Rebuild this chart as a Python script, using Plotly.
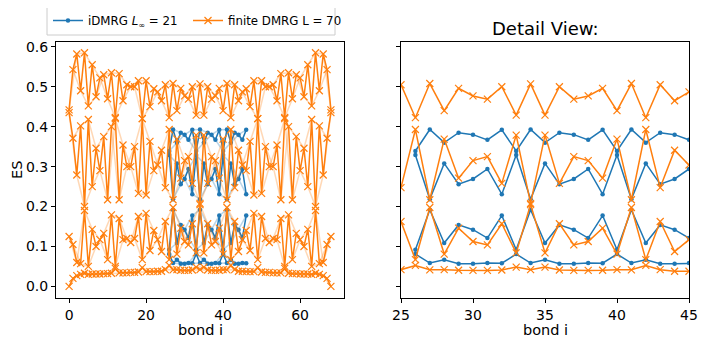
import plotly.graph_objects as go

BLUE = "#1f77b4"
ORANGE = "#ff7f0e"

# finite DMRG L = 70 : four lowest ES levels at bonds 0..68
fin_bonds = list(range(69))
fin_L1 = [0.442, 0.543, 0.582, 0.49, 0.585, 0.452, 0.555, 0.475, 0.522, 0.53, 0.47, 0.535, 0.423, 0.533, 0.465,
          0.505, 0.50, 0.50, 0.515, 0.42, 0.515, 0.45, 0.495, 0.487, 0.465, 0.505, 0.4225, 0.508, 0.44, 0.496,
          0.477, 0.469, 0.50, 0.429, 0.507,
          0.429, 0.50, 0.469, 0.477, 0.496, 0.44, 0.508, 0.4225, 0.505, 0.465, 0.487, 0.495, 0.45, 0.515, 0.42,
          0.515, 0.50, 0.50, 0.505, 0.465, 0.533, 0.423, 0.535, 0.47, 0.53, 0.522, 0.475, 0.555, 0.452, 0.585,
          0.49, 0.582, 0.543, 0.442]
fin_L2 = [0.435, 0.371, 0.279, 0.402, 0.2, 0.418, 0.25, 0.346, 0.29, 0.375, 0.217, 0.40, 0.42, 0.217, 0.354,
          0.30, 0.30, 0.35, 0.233, 0.42, 0.229, 0.363, 0.29, 0.304, 0.341, 0.2475, 0.393, 0.217, 0.369, 0.271,
          0.315, 0.325, 0.258, 0.379, 0.208,
          0.379, 0.258, 0.325, 0.315, 0.271, 0.369, 0.217, 0.393, 0.2475, 0.341, 0.304, 0.29, 0.363, 0.229, 0.42,
          0.233, 0.35, 0.30, 0.30, 0.354, 0.217, 0.42, 0.40, 0.217, 0.375, 0.29, 0.346, 0.25, 0.418, 0.2,
          0.402, 0.279, 0.371, 0.435]
fin_L3 = [0.125, 0.105, 0.06, 0.057, 0.19, 0.05, 0.143, 0.10, 0.117, 0.133, 0.067, 0.179, 0.05, 0.17, 0.117,
          0.12, 0.11, 0.12, 0.175, 0.067, 0.183, 0.09, 0.14, 0.117, 0.0875, 0.1625, 0.067, 0.1975, 0.081, 0.146,
          0.1125, 0.104, 0.157, 0.084, 0.205,
          0.084, 0.157, 0.104, 0.1125, 0.146, 0.081, 0.1975, 0.067, 0.1625, 0.0875, 0.117, 0.14, 0.09, 0.183, 0.067,
          0.175, 0.12, 0.11, 0.12, 0.117, 0.17, 0.05, 0.179, 0.067, 0.133, 0.117, 0.10, 0.143, 0.05, 0.19,
          0.057, 0.06, 0.105, 0.125]
fin_L4 = [0.0, 0.02, 0.027, 0.03, 0.033, 0.03, 0.031, 0.031, 0.031, 0.032, 0.032, 0.033, 0.045, 0.034, 0.034,
          0.034, 0.035, 0.035, 0.036, 0.047, 0.037, 0.037, 0.037, 0.038, 0.038, 0.042, 0.0525, 0.0415, 0.042, 0.0405,
          0.040, 0.040, 0.041, 0.0485, 0.042,
          0.0485, 0.041, 0.040, 0.040, 0.0405, 0.042, 0.0415, 0.0525, 0.042, 0.038, 0.038, 0.037, 0.037, 0.037, 0.047,
          0.036, 0.035, 0.035, 0.034, 0.034, 0.034, 0.045, 0.033, 0.032, 0.032, 0.031, 0.031, 0.031, 0.03, 0.033,
          0.03, 0.027, 0.02, 0.0]

# iDMRG L_inf = 21 : bonds 26..46
inf_bonds = list(range(26, 47))
inf_L1 = [0.339, 0.393, 0.36, 0.385, 0.38, 0.367, 0.392,
          0.339, 0.393, 0.36, 0.385, 0.38, 0.367, 0.392,
          0.339, 0.393, 0.36, 0.385, 0.38, 0.367, 0.392]
inf_L2 = [0.329, 0.2185, 0.308, 0.256, 0.269, 0.294, 0.231,
          0.329, 0.2185, 0.308, 0.256, 0.269, 0.294, 0.231,
          0.329, 0.2185, 0.308, 0.256, 0.269, 0.294, 0.231]
inf_L3 = [0.092, 0.192, 0.1085, 0.154, 0.142, 0.121, 0.1775,
          0.092, 0.192, 0.1085, 0.154, 0.142, 0.121, 0.1775,
          0.092, 0.192, 0.1085, 0.154, 0.142, 0.121, 0.1775]
inf_L4 = [0.081, 0.0585, 0.067, 0.057, 0.0565, 0.0585, 0.058,
          0.081, 0.0585, 0.067, 0.057, 0.0565, 0.0585, 0.058,
          0.081, 0.0585, 0.067, 0.057, 0.0565, 0.0585, 0.058]

y_ticks = [0.0, 0.1, 0.2, 0.3, 0.4, 0.5, 0.6]
x_ticks_left = [0, 20, 40, 60]
x_ticks_right = [25, 30, 35, 40, 45]

FONT = "DejaVu Sans"
fig = go.Figure()

BLUE_MARK = dict(symbol="circle", size=4.5, color=BLUE)
ORANGE_MARK = dict(symbol="x-thin", size=7, color=ORANGE, line=dict(width=1.2, color=ORANGE))


def add_series(bonds, levels, color, marker):
    for lev in levels:
        # faint even / odd sub-lattice lines (left panel)
        for start in (0, 1):
            fig.add_trace(go.Scatter(x=bonds[start::2], y=lev[start::2], mode="lines",
                                     line=dict(color=color, width=1.5), opacity=0.3,
                                     showlegend=False, hoverinfo="skip", xaxis="x", yaxis="y"))
    for lev in levels:
        fig.add_trace(go.Scatter(x=bonds, y=lev, mode="lines+markers", line=dict(color=color, width=1.5),
                                 marker=marker, showlegend=False, xaxis="x", yaxis="y"))
        fig.add_trace(go.Scatter(x=bonds, y=lev, mode="lines+markers", line=dict(color=color, width=1.5),
                                 marker=marker, showlegend=False, xaxis="x2", yaxis="y2"))


add_series(inf_bonds, [inf_L1, inf_L2, inf_L3, inf_L4], BLUE, BLUE_MARK)
add_series(fin_bonds, [fin_L1, fin_L2, fin_L3, fin_L4], ORANGE, ORANGE_MARK)

fig.add_trace(go.Scatter(x=[-100], y=[-100], mode="lines+markers", line=dict(color=BLUE, width=1.5),
                         marker=BLUE_MARK, name="iDMRG <i>L</i><sub>∞</sub> = 21", xaxis="x", yaxis="y",
                         legend="legend"))
fig.add_trace(go.Scatter(x=[-100], y=[-100], mode="lines+markers", line=dict(color=ORANGE, width=1.5),
                         marker=ORANGE_MARK, name="finite DMRG L = 70", xaxis="x", yaxis="y",
                         legend="legend2"))

# the page body has an 8 px margin, so figure coords = reference pixel - 8
W, H = 698, 337
OFF = 8


def px(x):
    return (x - OFF) / W


def py(y):
    return 1 - (y - OFF) / H


yd = [py(298), py(42)]
axis_common = dict(showline=True, mirror=True, linecolor="black", linewidth=1, ticks="outside",
                   ticklen=4, tickwidth=1, tickcolor="black", showgrid=False, zeroline=False,
                   automargin=False, tickfont=dict(size=14, color="black"))
legend_common = dict(orientation="h", y=py(20.5), xanchor="left", yanchor="middle",
                     bgcolor="rgba(0,0,0,0)", borderwidth=0, font=dict(size=11.8),
                     itemwidth=30, tracegroupgap=0)

fig.update_layout(
    width=W, height=H, margin=dict(l=0, r=0, t=0, b=0, autoexpand=False),
    paper_bgcolor="white", plot_bgcolor="white",
    font=dict(family=FONT, size=14, color="black"),
    xaxis=dict(domain=[px(56), px(344)], range=[-3.4, 71.4], tickvals=x_ticks_left,
               anchor="y", **axis_common),
    yaxis=dict(domain=yd, range=[-0.029, 0.612], tickvals=y_ticks, tickformat=".1f",
               anchor="x", **axis_common),
    xaxis2=dict(domain=[px(401), px(689)], range=[25, 45], tickvals=x_ticks_right,
                anchor="y2", **axis_common),
    yaxis2=dict(domain=yd, range=[-0.029, 0.612], tickvals=y_ticks, showticklabels=False,
                anchor="x2", **axis_common),
    legend=dict(x=px(48), **legend_common),
    legend2=dict(x=px(188), **legend_common),
    shapes=[dict(type="rect", xref="paper", yref="paper", x0=px(47), x1=px(335), y0=py(35), y1=py(6),
                 line=dict(color="#cccccc", width=1), fillcolor="white", layer="below")],
    annotations=[
        dict(text="Detail View:", x=px(545), y=py(28), xref="paper", yref="paper",
             xanchor="center", yanchor="middle", showarrow=False, font=dict(size=18)),
        dict(text="bond i", x=px(200), y=py(330), xref="paper", yref="paper",
             xanchor="center", yanchor="middle", showarrow=False, font=dict(size=14.5)),
        dict(text="bond i", x=px(545), y=py(330), xref="paper", yref="paper",
             xanchor="center", yanchor="middle", showarrow=False, font=dict(size=14.5)),
        dict(text="ES", x=px(17), y=py(170), xref="paper", yref="paper", textangle=-90,
             xanchor="center", yanchor="middle", showarrow=False, font=dict(size=14.5)),
    ],
)

fig.write_html("out.html")
